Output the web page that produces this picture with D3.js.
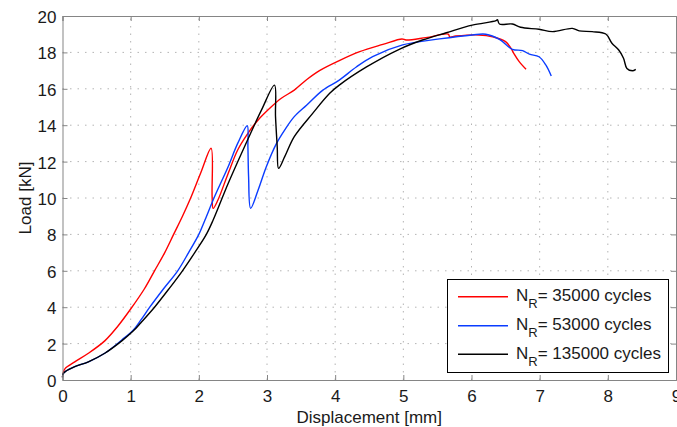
<!DOCTYPE html>
<html><head><meta charset="utf-8">
<script src="https://cdn.jsdelivr.net/npm/d3@7"></script>
<style>body{margin:0;background:#fff}svg{display:block}text{font-family:"Liberation Sans",Arial,sans-serif}</style>
</head><body><svg id="c" width="677" height="427"></svg>
<script>
const xTicks = [0,1,2,3,4,5,6,7,8,9];
const yTicks = [0,2,4,6,8,10,12,14,16,18,20];
const seriesNames = ["35000", "53000", "135000"];
const seriesColors = ["#ff0000", "#0a3cff", "#000000"];

const red35000 = [[0,0.15],[0.01,0.4],[0.04,0.64],[0.18,1.0],[0.38,1.47],[0.62,2.15],[0.8,2.9],[1.0,3.9],[1.2,5.0],[1.35,6.0],[1.5,7.0],[1.63,8.0],[1.76,9.0],[1.88,10.0],[2.03,11.4],[2.18,12.73],[2.195,10.07],[2.21,9.43],[2.28,9.89],[2.43,11.35],[2.57,12.64],[2.72,13.55],[2.87,14.29],[3.06,15.0],[3.21,15.48],[3.40,15.93],[3.58,16.5],[3.77,17.0],[4.06,17.55],[4.36,18.04],[4.70,18.44],[4.98,18.74],[5.04,18.68],[5.33,18.81],[5.66,19.0],[5.68,18.85],[5.77,18.9],[6.11,18.96],[6.31,18.86],[6.50,18.59],[6.58,18.22],[6.62,17.95],[6.70,17.49],[6.80,17.07]];
const blue53000 = [[0,0.15],[0.01,0.35],[0.04,0.46],[0.18,0.73],[0.38,1.0],[0.62,1.47],[0.87,2.2],[1.04,2.75],[1.15,3.3],[1.28,4.0],[1.48,5.0],[1.69,6.0],[1.85,7.0],[2.0,8.0],[2.09,8.79],[2.23,10.07],[2.43,11.72],[2.57,13.0],[2.71,13.97],[2.72,12.82],[2.73,11.17],[2.76,9.43],[2.87,10.44],[2.99,11.72],[3.14,13.0],[3.26,13.74],[3.40,14.47],[3.58,15.1],[3.82,15.93],[4.06,16.48],[4.31,17.2],[4.55,17.77],[4.99,18.41],[5.53,18.74],[6.01,18.96],[6.21,19.0],[6.41,18.72],[6.60,18.17],[6.75,18.1],[6.85,17.9],[6.99,17.76],[7.09,17.31],[7.17,16.7]];
const black135000 = [[0,0.15],[0.01,0.35],[0.04,0.46],[0.18,0.73],[0.38,1.0],[0.62,1.47],[0.87,2.15],[1.04,2.7],[1.15,3.15],[1.35,4.0],[1.56,5.0],[1.76,6.0],[1.94,7.0],[2.11,8.0],[2.21,8.79],[2.43,10.8],[2.67,12.82],[2.92,14.84],[3.11,16.2],[3.125,14.47],[3.15,12.82],[3.17,11.63],[3.26,12.27],[3.40,13.37],[3.67,14.65],[3.92,15.75],[4.06,16.2],[4.46,17.2],[4.94,18.17],[5.28,18.68],[5.63,19.08],[6.01,19.5],[6.36,19.74],[6.38,19.8],[6.41,19.56],[6.60,19.56],[6.72,19.38],[6.99,19.27],[7.19,19.14],[7.48,19.32],[7.58,19.18],[7.77,19.14],[7.97,19.01],[8.06,18.5],[8.16,18.13],[8.23,17.68],[8.28,17.12],[8.36,16.99],[8.41,17.07]];
const seriesData = [red35000, blue53000, black135000];

const svg = d3.select("#c");
const x = d3.scaleLinear().domain([0,9]).range([62.5,676]);
const y = d3.scaleLinear().domain([0,20]).range([380,16]);
const frame = "#858585";

// grid
const g = svg.append("g");
g.selectAll("line.vg").data(xTicks.slice(1,-1)).join("line")
  .attr("x1",d=>x(d)).attr("x2",d=>x(d)).attr("y1",y(0)).attr("y2",y(20))
  .attr("stroke","#b4b4b4").attr("stroke-dasharray","1.5,6").attr("stroke-width",1);
g.selectAll("line.hg").data(yTicks.slice(1,-1)).join("line")
  .attr("y1",d=>y(d)).attr("y2",d=>y(d)).attr("x1",x(0)).attr("x2",x(9))
  .attr("stroke","#b4b4b4").attr("stroke-dasharray","1.5,6").attr("stroke-width",1);

// curves
const line = d3.line().x(d=>x(d[0])).y(d=>y(d[1])).curve(d3.curveCatmullRom.alpha(0.5));
seriesData.forEach((s,i)=>{
  svg.append("path").attr("d",line(s)).attr("fill","none")
    .attr("stroke",seriesColors[i]).attr("stroke-width",1.4).attr("stroke-linejoin","round");
});

// axes
const fs = 17;
const xa = svg.append("g").attr("transform",`translate(0,${y(0)})`)
  .call(d3.axisBottom(x).tickValues(xTicks).tickSize(-5).tickPadding(10).tickFormat(d3.format("d")));
const xa2 = svg.append("g").attr("transform",`translate(0,${y(20)})`)
  .call(d3.axisTop(x).tickValues(xTicks).tickSize(-5).tickFormat(""));
const ya = svg.append("g").attr("transform",`translate(${x(0)},0)`)
  .call(d3.axisLeft(y).tickValues(yTicks).tickSize(-5).tickPadding(6).tickFormat(d3.format("d")));
const ya2 = svg.append("g").attr("transform",`translate(${x(9)},0)`)
  .call(d3.axisRight(y).tickValues(yTicks).tickSize(-5).tickFormat(""));
[xa,xa2,ya,ya2].forEach(a=>{
  a.selectAll("path.domain").attr("stroke",frame);
  a.selectAll(".tick line").attr("stroke",frame);
  a.selectAll("text").attr("font-size",fs).attr("fill","#1a1a1a").style("font-family",'"Liberation Sans",Arial,sans-serif');
});
xa.selectAll("text").attr("dy",null).attr("y",22);
ya.selectAll("text").attr("dy","0.38em").attr("x",-6);

svg.append("text").attr("x",(x(0)+x(9))/2).attr("y",423).attr("text-anchor","middle")
  .attr("font-size",fs).attr("fill","#1a1a1a").text("Displacement [mm]");
svg.append("text").attr("transform",`translate(30.5,${(y(0)+y(20))/2}) rotate(-90)`).attr("text-anchor","middle")
  .attr("font-size",fs).attr("fill","#1a1a1a").text("Load [kN]");

// legend
const lg = svg.append("g");
lg.append("rect").attr("x",447.5).attr("y",279.5).attr("width",221).attr("height",93)
  .attr("fill","#fff").attr("stroke","#000").attr("stroke-width",1);
const ly = [296.7,325.7,354.3];
seriesNames.forEach((n,i)=>{
  lg.append("line").attr("x1",458).attr("x2",508).attr("y1",ly[i]).attr("y2",ly[i])
    .attr("stroke",seriesColors[i]).attr("stroke-width",1.4);
  const t = lg.append("text").attr("x",516).attr("y",ly[i]+4.5).attr("font-size",fs).attr("fill","#1a1a1a");
  t.append("tspan").text("N");
  t.append("tspan").attr("font-size",13).attr("dy",7).text("R");
  t.append("tspan").attr("dy",-7).text("= " + n + " cycles");
});
</script></body></html>
